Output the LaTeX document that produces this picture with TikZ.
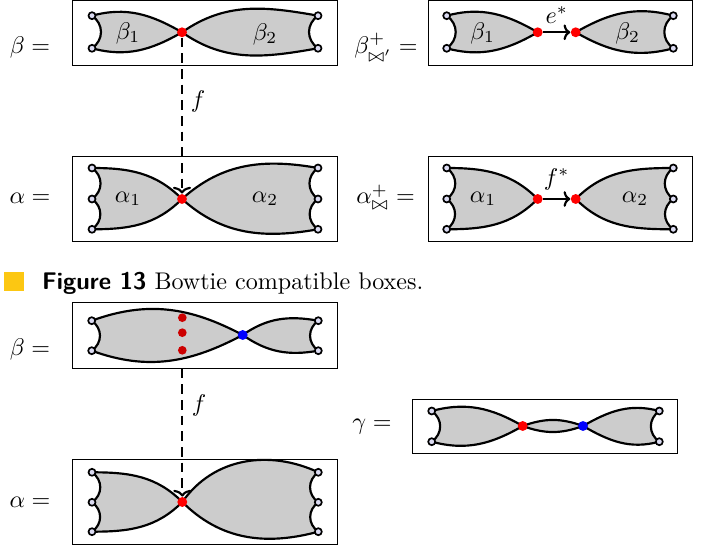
\documentclass[tikz,border=0pt]{standalone}
\usepackage{amsmath}
\usetikzlibrary{arrows.meta}
\definecolor{portfill}{rgb}{0.86,0.86,0.95}
\definecolor{lipicsYellow}{rgb}{0.99,0.78,0.07}
\definecolor{dotred}{rgb}{0.8,0,0}
\pgfdeclarelayer{back}
\pgfsetlayers{back,main}

\begin{document}
\begin{tikzpicture}[x=0.415pt,y=0.415pt,
  boxline/.style={line width=0.4pt},
  blob/.style={fill=black!20,draw=black,line width=0.9pt,line join=round},
  edgel/.style={out=35,in=-35,looseness=1.15},
  edger/.style={out=-145,in=145,looseness=1.15},
  port/.style={circle,draw=black,fill=portfill,line width=0.7pt,minimum size=2.9pt,inner sep=0pt},
  rdot/.style={circle,fill=red,minimum size=4.1pt,inner sep=0pt},
  bdot/.style={circle,fill=blue,minimum size=4.1pt,inner sep=0pt},
  ddot/.style={circle,fill=dotred,minimum size=3.6pt,inner sep=0pt},
  arr/.style={line width=0.9pt,-{To[width=6.5pt,length=2.8pt]}},
  fmap/.style={line width=0.9pt,dash pattern=on 4pt off 2.5pt,-{To[width=7.5pt,length=2.8pt]}},
  eq/.style={anchor=base}]
\useasboundingbox (0,0) rectangle (710,550);

% beta
\draw[boxline] (72.7,549.3) rectangle (337.3,484.3);
\node[eq] (b-eq) at (30,496) {$\beta =$};
\node[port] (b-l1) at (92,534.3) {};
\node[port] (b-l2) at (92,501.7) {};
\node[port] (b-r1) at (318,534.3) {};
\node[port] (b-r2) at (318,501.7) {};
\node[rdot] (b-x) at (182,517.7) {};
\node (b-1) at (128,517) {$\beta_1$};
\node (b-2) at (265,516) {$\beta_2$};
\begin{pgfonlayer}{back}
  \filldraw[blob] (b-l1.center) to[out=15,in=150] (b-x.center) to[out=-150,in=-15] (b-l2.center)
    to[edgel] (b-l1.center) -- cycle;
  \filldraw[blob] (b-x.center) to[out=35,in=170] (b-r1.center) to[edger] (b-r2.center)
    to[out=190,in=-35] (b-x.center) -- cycle;
\end{pgfonlayer}

% beta plus
\draw[boxline] (428.3,549.3) rectangle (692.7,484.3);
\node[eq] (bp-eq) at (386,496) {$\beta^{+}_{\bowtie'} =$};
\node[port] (bp-l1) at (446.7,534.3) {};
\node[port] (bp-l2) at (446.7,501.7) {};
\node[port] (bp-r1) at (673.3,534.3) {};
\node[port] (bp-r2) at (673.3,501.7) {};
\node[rdot] (bp-x1) at (537.7,517.7) {};
\node[rdot] (bp-x2) at (575.7,517.7) {};
\node (bp-1) at (482.7,517) {$\beta_1$};
\node (bp-2) at (627.7,517) {$\beta_2$};
\begin{pgfonlayer}{back}
  \filldraw[blob] (bp-l1.center) to[out=15,in=150] (bp-x1.center) to[out=-150,in=-15] (bp-l2.center)
    to[edgel] (bp-l1.center) -- cycle;
  \filldraw[blob] (bp-x2.center) to[out=30,in=165] (bp-r1.center) to[edger] (bp-r2.center)
    to[out=195,in=-30] (bp-x2.center) -- cycle;
\end{pgfonlayer}
\draw[arr] (bp-x1) -- (bp-x2) node[midway,above] (bp-e) {$e^*$};

% alpha
\draw[boxline] (72.7,393.3) rectangle (337.3,309);
\node[eq] (a-eq) at (30,346) {$\alpha =$};
\node[port] (a-l1) at (92,382) {};
\node[port] (a-l2) at (92,351) {};
\node[port] (a-l3) at (92,320.7) {};
\node[port] (a-r1) at (318,382) {};
\node[port] (a-r2) at (318,351) {};
\node[port] (a-r3) at (318,320.7) {};
\node[rdot] (a-x) at (182,351) {};
\node (a-1) at (128,351) {$\alpha_1$};
\node (a-2) at (265,351) {$\alpha_2$};
\begin{pgfonlayer}{back}
  \filldraw[blob] (a-l1.center) to[out=0,in=135] (a-x.center) to[out=-135,in=0] (a-l3.center)
    to[edgel] (a-l2.center) to[edgel] (a-l1.center) -- cycle;
  \filldraw[blob] (a-x.center) to[out=42,in=170] (a-r1.center) to[edger] (a-r2.center)
    to[edger] (a-r3.center) to[out=190,in=-42] (a-x.center) -- cycle;
\end{pgfonlayer}
\draw[fmap] (b-x) -- (a-x);
\node (f-1) at (198,449) {$f$};

% alpha plus
\draw[boxline] (428.3,393.3) rectangle (692.7,309);
\node[eq] (ap-eq) at (385.5,346) {$\alpha^{+}_{\bowtie} =$};
\node[port] (ap-l1) at (446.7,382) {};
\node[port] (ap-l2) at (446.7,351) {};
\node[port] (ap-l3) at (446.7,320.7) {};
\node[port] (ap-r1) at (673.3,382) {};
\node[port] (ap-r2) at (673.3,351) {};
\node[port] (ap-r3) at (673.3,320.7) {};
\node[rdot] (ap-x1) at (537.7,351) {};
\node[rdot] (ap-x2) at (575.7,351) {};
\node (ap-1) at (483,351) {$\alpha_1$};
\node (ap-2) at (635,351) {$\alpha_2$};
\begin{pgfonlayer}{back}
  \filldraw[blob] (ap-l1.center) to[out=0,in=135] (ap-x1.center) to[out=-135,in=0] (ap-l3.center)
    to[edgel] (ap-l2.center) to[edgel] (ap-l1.center) -- cycle;
  \filldraw[blob] (ap-x2.center) to[out=45,in=180] (ap-r1.center) to[edger] (ap-r2.center)
    to[edger] (ap-r3.center) to[out=180,in=-45] (ap-x2.center) -- cycle;
\end{pgfonlayer}
\draw[arr] (ap-x1) -- (ap-x2) node[midway,above] (ap-f) {$f^*$};

% caption
\fill[lipicsYellow] (4,259.3) rectangle (24,278.3);
\node[anchor=base west,inner sep=0pt] (cap) at (41.7,260)
  {\textsf{\textbf{Figure 13}} Bowtie compatible boxes.};

% beta, second figure
\draw[boxline] (72.7,247.3) rectangle (337.3,181.3);
\node[eq] (bb-eq) at (30,194) {$\beta =$};
\node[port] (bb-l1) at (91.7,229.3) {};
\node[port] (bb-l2) at (91.7,199.3) {};
\node[port] (bb-r1) at (318.3,229.3) {};
\node[port] (bb-r2) at (318.3,199.3) {};
\node[bdot] (bb-y) at (242.7,215) {};
\node[ddot] (bb-d1) at (182.3,232.3) {};
\node[ddot] (bb-d2) at (182.3,217.3) {};
\node[ddot] (bb-d3) at (182.3,199.7) {};
\begin{pgfonlayer}{back}
  \filldraw[blob] (bb-l1.center) to[out=20,in=152] (bb-y.center) to[out=-152,in=-20] (bb-l2.center)
    to[edgel] (bb-l1.center) -- cycle;
  \filldraw[blob] (bb-y.center) to[out=35,in=170] (bb-r1.center) to[edger] (bb-r2.center)
    to[out=190,in=-35] (bb-y.center) -- cycle;
\end{pgfonlayer}
\coordinate (bb-f) at (182.3,181.3);

% alpha, second figure
\draw[boxline] (72.7,90.7) rectangle (337.3,6);
\node[eq] (ab-eq) at (30,42.3) {$\alpha =$};
\node[port] (ab-l1) at (92,77.7) {};
\node[port] (ab-l2) at (92,47.7) {};
\node[port] (ab-l3) at (92,18.3) {};
\node[port] (ab-r1) at (318.3,77.7) {};
\node[port] (ab-r2) at (318.3,47.7) {};
\node[port] (ab-r3) at (318.3,18.3) {};
\node[rdot] (ab-x) at (182.3,48) {};
\begin{pgfonlayer}{back}
  \filldraw[blob] (ab-l1.center) to[out=0,in=135] (ab-x.center) to[out=-135,in=0] (ab-l3.center)
    to[edgel] (ab-l2.center) to[edgel] (ab-l1.center) -- cycle;
  \filldraw[blob] (ab-x.center) to[out=55,in=155] (ab-r1.center) to[edger] (ab-r2.center)
    to[edger] (ab-r3.center) to[out=195,in=-45] (ab-x.center) -- cycle;
\end{pgfonlayer}
\draw[fmap] (bb-f) -- (ab-x);
\node (f-2) at (199,145) {$f$};

% gamma
\draw[boxline] (412.3,151) rectangle (677.7,96.7);
\node[eq] (g-eq) at (372,120.7) {$\gamma =$};
\node[port] (g-l1) at (431.7,139) {};
\node[port] (g-l2) at (431.7,108.3) {};
\node[port] (g-r1) at (659.3,139) {};
\node[port] (g-r2) at (659.3,108.3) {};
\node[rdot] (g-x) at (522.7,124) {};
\node[bdot] (g-y) at (583,124) {};
\begin{pgfonlayer}{back}
  \filldraw[blob] (g-l1.center) to[out=15,in=150] (g-x.center) to[out=-150,in=-15] (g-l2.center)
    to[edgel] (g-l1.center) -- cycle;
  \filldraw[blob] (g-x.center) to[out=20,in=160] (g-y.center) to[out=-160,in=-20] (g-x.center) -- cycle;
  \filldraw[blob] (g-y.center) to[out=30,in=165] (g-r1.center) to[edger] (g-r2.center)
    to[out=195,in=-30] (g-y.center) -- cycle;
\end{pgfonlayer}
\end{tikzpicture}
\end{document}
